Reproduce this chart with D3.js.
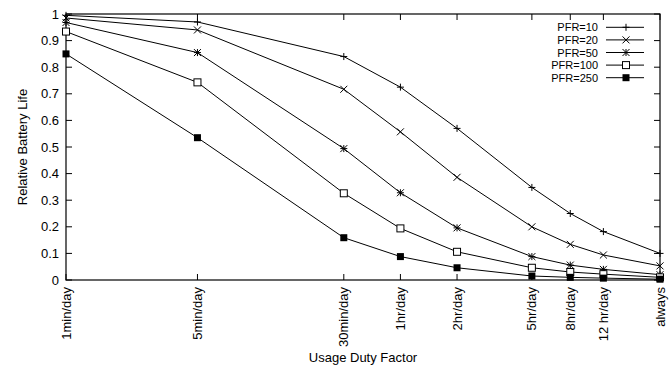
<!DOCTYPE html>
<html>
<head>
<meta charset="utf-8">
<script src="https://cdn.jsdelivr.net/npm/d3@7"></script>
<style>
  body { margin: 0; background: #fff; }
  text { font-family: "Liberation Sans", Arial, sans-serif; fill: #000; font-size: 13px; }
</style>
</head>
<body>
<script>
// data: usage minutes per day (log x) and relative battery life
var categories = ["1min/day", "5min/day", "30min/day", "1hr/day", "2hr/day", "5hr/day", "8hr/day", "12 hr/day", "always"];
var minutesPerDay = [1, 5, 30, 60, 120, 300, 480, 720, 1440];
var seriesNames = ["PFR=10", "PFR=20", "PFR=50", "PFR=100", "PFR=250"];
var pfr10  = [0.995, 0.97, 0.84, 0.725, 0.57, 0.348, 0.25, 0.182, 0.10];
var pfr20  = [0.985, 0.94, 0.717, 0.557, 0.386, 0.20, 0.134, 0.094, 0.053];
var pfr50  = [0.968, 0.855, 0.494, 0.328, 0.196, 0.088, 0.056, 0.04, 0.02];
var pfr100 = [0.934, 0.743, 0.326, 0.194, 0.106, 0.046, 0.03, 0.022, 0.01];
var pfr250 = [0.85, 0.535, 0.159, 0.088, 0.046, 0.015, 0.01, 0.007, 0.003];
var yTicks = [0, 0.1, 0.2, 0.3, 0.4, 0.5, 0.6, 0.7, 0.8, 0.9, 1];

var seriesValues = [pfr10, pfr20, pfr50, pfr100, pfr250];
var markers = ["plus", "cross", "star", "box", "fbox"];

var W = 672, H = 366;
var margin = {top: 14, right: 12, bottom: 86, left: 66},
    w = W - margin.left - margin.right,
    h = H - margin.top - margin.bottom;

var svg = d3.select("body").append("svg")
            .attr("width", W)
            .attr("height", H);

var g = svg.append("g")
           .attr("transform", "translate(" + margin.left + "," + margin.top + ")");

var x = d3.scaleLog().domain([1, 1440]).range([0, w]);
var y = d3.scaleLinear().domain([0, 1]).range([h, 0]);

var tickLen = 6;

// y ticks, left and right (mirrored)
yTicks.forEach(function(t) {
    g.append("line").attr("x1", 0).attr("x2", tickLen).attr("y1", y(t)).attr("y2", y(t))
        .attr("stroke", "#000");
    g.append("line").attr("x1", w).attr("x2", w - tickLen).attr("y1", y(t)).attr("y2", y(t))
        .attr("stroke", "#000");
    g.append("text")
        .attr("x", -7)
        .attr("y", y(t) + 4.5)
        .attr("text-anchor", "end")
        .text(t);
});

// x ticks, bottom and top
minutesPerDay.forEach(function(m, i) {
    var xp = x(m);
    g.append("line").attr("x1", xp).attr("x2", xp).attr("y1", h).attr("y2", h - tickLen)
        .attr("stroke", "#000");
    g.append("line").attr("x1", xp).attr("x2", xp).attr("y1", 0).attr("y2", tickLen)
        .attr("stroke", "#000");
    g.append("text")
        .attr("transform", "translate(" + (xp + 4.5) + "," + (h + 7) + ") rotate(-90)")
        .attr("text-anchor", "end")
        .text(categories[i]);
});

// frame
g.append("rect")
    .attr("x", 0).attr("y", 0).attr("width", w).attr("height", h)
    .attr("fill", "none").attr("stroke", "#000").attr("stroke-width", 1.2);

// axis titles
svg.append("text")
    .attr("transform", "translate(27," + (margin.top + h / 2) + ") rotate(-90)")
    .attr("text-anchor", "middle")
    .text("Relative Battery Life");

svg.append("text")
    .attr("x", margin.left + w / 2)
    .attr("y", 362)
    .attr("text-anchor", "middle")
    .text("Usage Duty Factor");

// marker drawing
function drawMarker(sel, type, cx, cy) {
    var s = 3.5;
    var mg = sel.append("g").attr("transform", "translate(" + cx + "," + cy + ")");
    if (type == "plus" || type == "star") {
        mg.append("path").attr("d", "M" + (-s) + ",0H" + s + "M0," + (-s) + "V" + s)
            .attr("stroke", "#000").attr("stroke-width", 1);
    }
    if (type == "cross" || type == "star") {
        mg.append("path").attr("d", "M" + (-s) + "," + (-s) + "L" + s + "," + s + "M" + (-s) + "," + s + "L" + s + "," + (-s))
            .attr("stroke", "#000").attr("stroke-width", 1);
    }
    if (type == "box") {
        mg.append("rect").attr("x", -3.5).attr("y", -3.5).attr("width", 7).attr("height", 7)
            .attr("fill", "#fff").attr("stroke", "#000").attr("stroke-width", 1);
    }
    if (type == "fbox") {
        mg.append("rect").attr("x", -3.5).attr("y", -3.5).attr("width", 7).attr("height", 7)
            .attr("fill", "#000");
    }
}

var line = d3.line()
    .x(function(d) { return x(d[0]); })
    .y(function(d) { return y(d[1]); });

seriesValues.forEach(function(vals, si) {
    var pts = minutesPerDay.map(function(m, i) { return [m, vals[i]]; });
    g.append("path")
        .datum(pts)
        .attr("d", line)
        .attr("fill", "none")
        .attr("stroke", "#000")
        .attr("stroke-width", 1);
    pts.forEach(function(p) {
        drawMarker(g, markers[si], x(p[0]), y(p[1]));
    });
});

// legend (rows are tight, so slightly smaller text)
var legend_x = 598, legend_y = 27.3, legend_step = 12.6;
seriesNames.forEach(function(name, i) {
    var ly = legend_y + i * legend_step;
    svg.append("text")
        .attr("x", legend_x)
        .attr("y", ly + 4)
        .attr("text-anchor", "end")
        .style("font-size", "11px")
        .text(name);
    svg.append("line")
        .attr("x1", 606).attr("x2", 644).attr("y1", ly).attr("y2", ly)
        .attr("stroke", "#000").attr("stroke-width", 1);
    drawMarker(svg, markers[i], 626, ly);
});
</script>
</body>
</html>
